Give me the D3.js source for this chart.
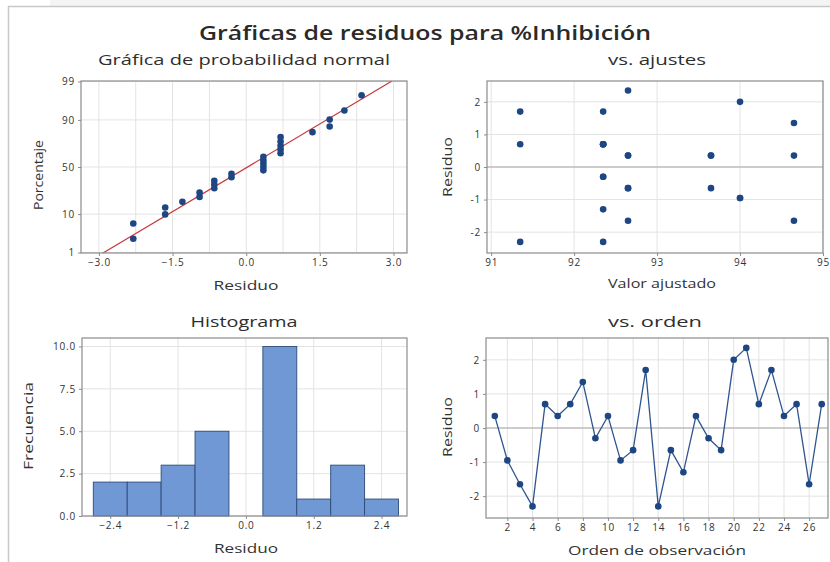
<!DOCTYPE html>
<html><head><meta charset="utf-8">
<script src="https://cdn.jsdelivr.net/npm/d3@7"></script>
<style>
body{margin:0;background:#fff}
svg{display:block}
text{font-family:"Open Sans","Noto Sans",sans-serif;fill:#333}
</style>
</head><body>
<svg id="c" width="830" height="562"></svg>
<script>
// ---- data ----
const residuals = [0.35,-0.95,-1.65,-2.3,0.7,0.35,0.7,1.35,-0.3,0.35,-0.95,-0.65,1.7,-2.3,-0.65,-1.3,0.35,-0.3,-0.65,2.0,2.35,0.7,1.7,0.35,0.7,-1.65,0.7];
const fitted = [93.65,94.0,94.65,91.35,92.35,92.65,92.35,94.65,92.35,94.65,94.0,93.65,91.35,92.35,92.65,92.35,93.65,92.35,92.65,94.0,92.65,91.35,92.35,92.65,92.35,92.65,92.35];
const histBins = [-2.4,-1.8,-1.2,-0.6,0.0,0.6,1.2,1.8,2.4];
const histCounts = [2,2,3,5,0,10,1,3,1];
const binWidth = [0.6];
const probYTicks = [1,10,50,90,99];
const probXTicks = [-3.0,-1.5,0.0,1.5,3.0];
const probXGrid = [-3.0,-2.25,-1.5,-0.75,0.0,0.75,1.5,2.25,3.0];
const fitXTicks = [91,92,93,94,95];
const residTicks = [-2,-1,0,1,2];
const histXTicks = [-2.4,-1.2,0.0,1.2,2.4];
const histYTicks = [0,2.5,5,7.5,10];
const orderTicks = [2,4,6,8,10,12,14,16,18,20,22,24,26];

// inverse normal CDF (Acklam)
function qnorm(p){
  const a=[-3.969683028665376e+01,2.209460984245205e+02,-2.759285104469687e+02,1.383577518672690e+02,-3.066479806614716e+01,2.506628277459239e+00];
  const b=[-5.447609879822406e+01,1.615858368580409e+02,-1.556989798598866e+02,6.680131188771972e+01,-1.328068155288572e+01];
  const c=[-7.784894002430293e-03,-3.223964580411365e-01,-2.400758277161838e+00,-2.549671010115747e+00,4.374664141464968e+00,2.938163982698783e+00];
  const d=[7.784695709041462e-03,3.224671290700398e-01,2.445134137142996e+00,3.754408661907416e+00];
  const pl=0.02425;
  let q,r;
  if(p<pl){q=Math.sqrt(-2*Math.log(p));return (((((c[0]*q+c[1])*q+c[2])*q+c[3])*q+c[4])*q+c[5])/((((d[0]*q+d[1])*q+d[2])*q+d[3])*q+1);}
  if(p>1-pl){q=Math.sqrt(-2*Math.log(1-p));return -(((((c[0]*q+c[1])*q+c[2])*q+c[3])*q+c[4])*q+c[5])/((((d[0]*q+d[1])*q+d[2])*q+d[3])*q+1);}
  q=p-0.5;r=q*q;
  return (((((a[0]*r+a[1])*r+a[2])*r+a[3])*r+a[4])*r+a[5])*q/(((((b[0]*r+b[1])*r+b[2])*r+b[3])*r+b[4])*r+1);
}

const svg = d3.select("#c");
const ink = "#333", boxCol = "#8c8c8c", gridCol = "#e3e3e3", ptCol = "#1d4683";

// frame
svg.append("rect").attr("x",50).attr("y",0).attr("width",780).attr("height",6.5).attr("fill","#f4f4f4");
svg.append("path").attr("d","M8.5,562 V6.5 H830").attr("fill","none").attr("stroke","#c8c8c8").attr("stroke-width",1.5);

// title
svg.append("text").attr("x",425).attr("y",40).attr("text-anchor","middle")
  .attr("font-size",20).attr("font-weight",600).attr("textLength",452).attr("lengthAdjust","spacingAndGlyphs")
  .style("fill","#2a2a2a").text("Gráficas de residuos para %Inhibición");

function panel(o){
  const g = svg.append("g");
  const x = d3.scaleLinear().domain(o.xd).range([o.x0,o.x1]);
  const y = d3.scaleLinear().domain(o.yd).range([o.y1,o.y0]);
  // grid
  g.selectAll(".gx").data(o.xgrid).join("line")
    .attr("x1",d=>x(d)).attr("x2",d=>x(d)).attr("y1",o.y0).attr("y2",o.y1)
    .attr("stroke",gridCol).attr("stroke-width",1);
  g.selectAll(".gy").data(o.ygrid).join("line")
    .attr("y1",d=>y(o.yt?o.yt(d):d)).attr("y2",d=>y(o.yt?o.yt(d):d)).attr("x1",o.x0).attr("x2",o.x1)
    .attr("stroke",gridCol).attr("stroke-width",1);
  // axes
  const xa = d3.axisBottom(x).tickValues(o.xticks).tickSize(3).tickPadding(3).tickFormat(o.xfmt);
  const ya = d3.axisLeft(y).tickValues(o.yticks.map(d=>o.yt?o.yt(d):d)).tickSize(3).tickPadding(3)
    .tickFormat((d,i)=>o.yfmt(o.yticks[i]));
  const gx = g.append("g").attr("transform",`translate(0,${o.y1})`).call(xa);
  const gy = g.append("g").attr("transform",`translate(${o.x0},0)`).call(ya);
  [gx,gy].forEach(a=>{
    a.select(".domain").remove();
    a.selectAll(".tick line").attr("stroke",boxCol);
    a.selectAll(".tick text").attr("font-size",10).attr("letter-spacing",0.8).style("font-family",'"Open Sans","Noto Sans",sans-serif').style("fill",ink);
  });
  // titles
  g.append("text").attr("x",o.tx).attr("y",o.ty).attr("text-anchor","middle").attr("font-size",14)
    .attr("textLength",o.tw).attr("lengthAdjust","spacingAndGlyphs").style("fill","#2e2e2e").text(o.title);
  g.append("text").attr("x",o.xlx).attr("y",o.xly).attr("text-anchor","middle").attr("font-size",13)
    .attr("textLength",o.xlw).attr("lengthAdjust","spacingAndGlyphs").text(o.xlabel);
  g.append("text").attr("transform",`translate(${o.ylx},${o.yly}) rotate(-90)`).attr("text-anchor","middle").attr("font-size",13)
    .attr("textLength",o.ylw).attr("lengthAdjust","spacingAndGlyphs").text(o.ylabel);
  return {g,x,y,o};
}
function box(p){
  p.g.append("rect").attr("x",p.o.x0).attr("y",p.o.y0).attr("width",p.o.x1-p.o.x0).attr("height",p.o.y1-p.o.y0)
    .attr("fill","none").attr("stroke",boxCol).attr("stroke-width",1.2);
}
const f1 = d3.format(".1f");

// ---- Panel 1: normal probability ----
const p1 = panel({x0:81,x1:407,y0:81,y1:253,xd:[-3.365,3.275],yd:[-2.34,2.34],
  xgrid:probXGrid,ygrid:probYTicks,yt:d=>qnorm(d/100),xticks:probXTicks,yticks:probYTicks,
  xfmt:f1,yfmt:d=>String(d),
  title:"Gráfica de probabilidad normal",tx:244,ty:65,tw:292,
  xlabel:"Residuo",xlx:246,xly:290,xlw:65,ylabel:"Porcentaje",ylx:43,yly:175,ylw:70});
const n = residuals.length;
const sorted = residuals.slice().sort((a,b)=>a-b);
const mean = d3.mean(residuals), sd = d3.deviation(residuals);
const zLo = p1.y.domain()[0], zHi = p1.y.domain()[1];
p1.g.append("clipPath").attr("id","clip1").append("rect").attr("x",81).attr("y",81).attr("width",326).attr("height",172);
p1.g.append("line").attr("clip-path","url(#clip1)")
  .attr("x1",p1.x(mean+sd*zLo)).attr("y1",p1.y(zLo)).attr("x2",p1.x(mean+sd*zHi)).attr("y2",p1.y(zHi))
  .attr("stroke","#c8363b").attr("stroke-width",1.2);
p1.g.selectAll(".pt").data(sorted).join("circle")
  .attr("cx",d=>p1.x(d)).attr("cy",(d,i)=>p1.y(qnorm((i+1-0.3)/(n+0.4))))
  .attr("r",3.3).attr("fill",ptCol);
box(p1);

// ---- Panel 2: vs fits ----
const p2 = panel({x0:487,x1:823,y0:81,y1:253,xd:[90.95,95.0],yd:[-2.64,2.64],
  xgrid:fitXTicks,ygrid:residTicks,xticks:fitXTicks,yticks:residTicks,
  xfmt:d=>String(d),yfmt:d=>String(d),
  title:"vs. ajustes",tx:657,ty:65,tw:98,
  xlabel:"Valor ajustado",xlx:662,xly:288,xlw:108,ylabel:"Residuo",ylx:452,yly:167,ylw:60});
p2.g.append("line").attr("x1",487).attr("x2",823).attr("y1",p2.y(0)).attr("y2",p2.y(0)).attr("stroke","#a8a8a8").attr("stroke-width",1.2);
p2.g.selectAll(".pt").data(residuals).join("circle")
  .attr("cx",(d,i)=>p2.x(fitted[i])).attr("cy",d=>p2.y(d)).attr("r",3.3).attr("fill",ptCol);
box(p2);

// ---- Panel 3: histogram ----
const p3 = panel({x0:82,x1:407,y0:338,y1:516,xd:[-2.9,2.85],yd:[0,10.5],
  xgrid:histXTicks,ygrid:histYTicks,xticks:histXTicks,yticks:histYTicks,
  xfmt:f1,yfmt:f1,
  title:"Histograma",tx:244,ty:327,tw:107,
  xlabel:"Residuo",xlx:246,xly:553,xlw:64,ylabel:"Frecuencia",ylx:33,yly:426,ylw:88});
p3.g.selectAll(".bar").data(histBins).join("rect")
  .attr("x",d=>p3.x(d-binWidth[0]/2)).attr("width",d=>p3.x(d+binWidth[0]/2)-p3.x(d-binWidth[0]/2))
  .attr("y",(d,i)=>p3.y(histCounts[i])).attr("height",(d,i)=>p3.y(0)-p3.y(histCounts[i]))
  .attr("fill","#7098d4").attr("stroke","#2d4a78").attr("stroke-width",0.9);
box(p3);

// ---- Panel 4: vs order ----
const p4 = panel({x0:486,x1:828,y0:338,y1:518,xd:[0.3,27.5],yd:[-2.64,2.64],
  xgrid:orderTicks,ygrid:residTicks,xticks:orderTicks,yticks:residTicks,
  xfmt:d=>String(d),yfmt:d=>String(d),
  title:"vs. orden",tx:655,ty:327,tw:94,
  xlabel:"Orden de observación",xlx:657,xly:555,xlw:178,ylabel:"Residuo",ylx:452,yly:427,ylw:60});
p4.g.append("line").attr("x1",486).attr("x2",828).attr("y1",p4.y(0)).attr("y2",p4.y(0)).attr("stroke","#a8a8a8").attr("stroke-width",1.2);
p4.g.append("path").datum(residuals)
  .attr("d",d3.line().x((d,i)=>p4.x(i+1)).y(d=>p4.y(d)))
  .attr("fill","none").attr("stroke","#2f5590").attr("stroke-width",1.3);
p4.g.selectAll(".pt").data(residuals).join("circle")
  .attr("cx",(d,i)=>p4.x(i+1)).attr("cy",d=>p4.y(d)).attr("r",3.3).attr("fill",ptCol);
box(p4);
</script>
</body></html>
